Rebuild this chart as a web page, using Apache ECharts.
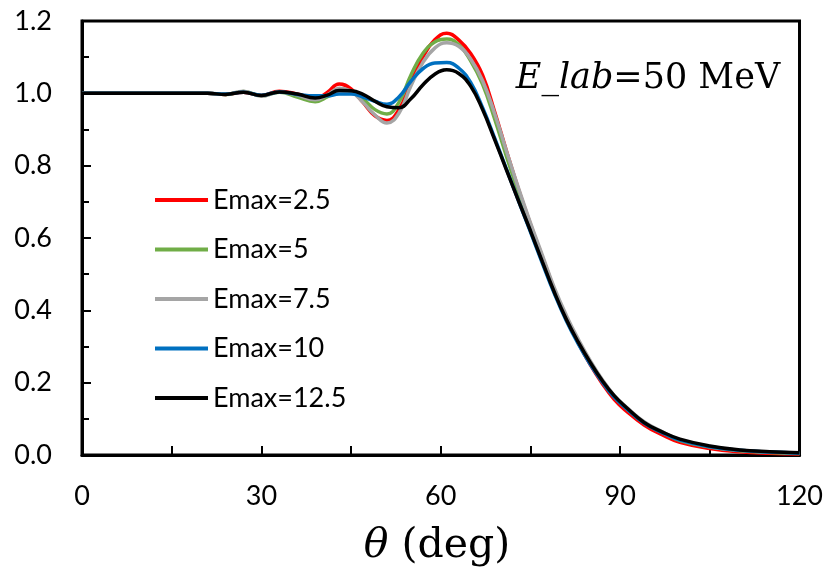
<!DOCTYPE html>
<html>
<head>
<meta charset="utf-8">
<script src="https://cdn.jsdelivr.net/npm/echarts@6/dist/echarts.min.js"></script>
<style>
html,body{margin:0;padding:0;background:#fff;}
#chart{width:826px;height:572px;}
</style>
</head>
<body>
<div id="chart"></div>
<script>
// Angle (deg)
var theta = [0, 6, 12, 18, 21, 24, 27, 30, 33, 36, 39,
  41, 43, 45, 47, 49, 51, 53, 55, 57, 59, 61, 63, 65, 67, 69, 71, 73, 75, 77, 79, 81, 83, 85, 87, 89, 91,
  94, 97, 100, 105, 110, 115, 120];

var seriesNames = ['Emax=2.5', 'Emax=5', 'Emax=7.5', 'Emax=10', 'Emax=12.5'];
var seriesColors = ['#FF0000', '#70AD47', '#A5A5A5', '#0070C0', '#000000'];

var emax2_5 = [1.0, 1.0, 1.0, 1.0, 1.0, 0.997, 1.003, 0.994, 1.006, 0.998, 0.986,
  1.002, 1.026, 1.012, 0.975, 0.938, 0.925, 0.955, 1.03, 1.1, 1.148, 1.166, 1.148, 1.11, 1.05, 0.95, 0.84, 0.735, 0.638, 0.547, 0.457, 0.377, 0.31, 0.25, 0.198, 0.154, 0.122,
  0.083, 0.056, 0.035, 0.018, 0.009, 0.005, 0.003];
var emax5 = [1.0, 1.0, 1.0, 1.0, 1.0, 0.997, 1.005, 0.993, 1.003, 0.99, 0.977,
  0.99, 1.01, 1.007, 0.985, 0.955, 0.943, 0.975, 1.05, 1.11, 1.142, 1.15, 1.135, 1.09, 1.025, 0.93, 0.825, 0.725, 0.632, 0.543, 0.455, 0.38, 0.314, 0.256, 0.205, 0.162, 0.13,
  0.09, 0.063, 0.04, 0.022, 0.012, 0.007, 0.004];
var emax7_5 = [1.0, 1.0, 1.0, 1.0, 1.0, 0.997, 1.006, 0.992, 1.004, 0.995, 0.982,
  0.995, 1.014, 1.005, 0.975, 0.94, 0.918, 0.945, 1.02, 1.085, 1.125, 1.14, 1.13, 1.095, 1.035, 0.945, 0.84, 0.738, 0.642, 0.552, 0.462, 0.386, 0.32, 0.261, 0.209, 0.165, 0.133,
  0.092, 0.065, 0.042, 0.023, 0.013, 0.008, 0.005];
var emax10 = [1.0, 1.0, 1.0, 1.0, 1.0, 0.998, 1.003, 0.995, 1.004, 0.997, 0.993,
  0.993, 0.998, 0.998, 0.99, 0.978, 0.97, 0.99, 1.033, 1.068, 1.084, 1.085, 1.07, 1.03, 0.96, 0.877, 0.79, 0.703, 0.617, 0.53, 0.446, 0.371, 0.307, 0.251, 0.202, 0.16, 0.129,
  0.088, 0.062, 0.041, 0.023, 0.013, 0.008, 0.005];
var emax12_5 = [1.0, 1.0, 1.0, 1.0, 1.0, 0.997, 1.003, 0.994, 1.004, 0.998, 0.987,
  0.995, 1.008, 1.007, 0.997, 0.978, 0.963, 0.96, 0.985, 1.023, 1.053, 1.065, 1.055, 1.02, 0.955, 0.873, 0.788, 0.703, 0.62, 0.534, 0.45, 0.375, 0.312, 0.256, 0.206, 0.164, 0.132,
  0.09, 0.064, 0.044, 0.025, 0.014, 0.009, 0.006];

var seriesValues = [emax2_5, emax5, emax7_5, emax10, emax12_5];

var xTickLabels = [0, 30, 60, 90, 120];
var yTickLabels = [0.0, 0.2, 0.4, 0.6, 0.8, 1.0, 1.2];

var chart = echarts.init(document.getElementById('chart'), null, {renderer: 'canvas'});

var series = seriesNames.map(function (name, i) {
  return {
    name: name,
    type: 'line',
    data: theta.map(function (t, j) { return [t, seriesValues[i][j]]; }),
    showSymbol: false,
    symbol: 'none',
    smooth: 0.45,
    lineStyle: {color: seriesColors[i], width: 3.5},
    itemStyle: {color: seriesColors[i]},
    z: 2 + i
  };
});

var tickFont = 'Lato';

chart.setOption({
  animation: false,
  backgroundColor: '#ffffff',
  grid: {
    left: 82, right: 26, top: 21, bottom: 117,
    show: true, borderColor: '#000', borderWidth: 3, backgroundColor: 'transparent'
  },
  legend: {
    orient: 'vertical',
    left: 150,
    top: 180,
    icon: 'rect',
    itemWidth: 53,
    itemHeight: 4,
    itemGap: 19.5,
    data: seriesNames,
    textStyle: {fontFamily: tickFont, fontSize: 27, color: '#000', lineHeight: 30, padding: [0, 0, 0, 0]}
  },
  xAxis: {
    type: 'value',
    min: 0, max: 120, interval: 30,
    axisLine: {show: true, onZero: false, lineStyle: {color: '#000', width: 3}},
    axisTick: {show: true, inside: true, length: 9, lineStyle: {color: '#000', width: 2}},
    minorTick: {show: true, splitNumber: 2, length: 9, lineStyle: {color: '#000', width: 2}},
    splitLine: {show: false},
    axisLabel: {
      margin: 28, color: '#000', fontFamily: tickFont, fontSize: 27,
      formatter: function (v) { return xTickLabels.indexOf(v) >= 0 ? String(v) : ''; }
    }
  },
  yAxis: {
    type: 'value',
    min: 0, max: 1.2, interval: 0.2,
    axisLine: {show: true, lineStyle: {color: '#000', width: 3}},
    axisTick: {show: true, inside: true, length: 9, lineStyle: {color: '#000', width: 2}},
    minorTick: {show: true, splitNumber: 2, length: 7, lineStyle: {color: '#000', width: 2}},
    splitLine: {show: false},
    axisLabel: {
      margin: 30, color: '#000', fontFamily: tickFont, fontSize: 27,
      formatter: function (v) {
        var k = Math.round(v * 10) / 10;
        return yTickLabels.indexOf(k) >= 0 ? k.toFixed(1) : '';
      }
    }
  },
  graphic: [
    {
      type: 'text',
      x: 648, y: 79,
      style: {
        text: '{i|E_lab}{n|=50 MeV}',
        align: 'center', verticalAlign: 'middle',
        rich: {
          i: {fontFamily: 'DejaVu Serif', fontStyle: 'italic', fontSize: 35, fill: '#000'},
          n: {fontFamily: 'DejaVu Serif', fontSize: 35, fill: '#000'}
        }
      }
    },
    {
      type: 'text',
      x: 437, y: 546,
      style: {
        text: '{i|θ}{n| (deg)}',
        align: 'center', verticalAlign: 'middle',
        rich: {
          i: {fontFamily: 'DejaVu Serif', fontStyle: 'italic', fontSize: 41, fill: '#000'},
          n: {fontFamily: 'DejaVu Serif', fontSize: 41, fill: '#000'}
        }
      }
    }
  ],
  series: series
});
</script>
</body>
</html>
